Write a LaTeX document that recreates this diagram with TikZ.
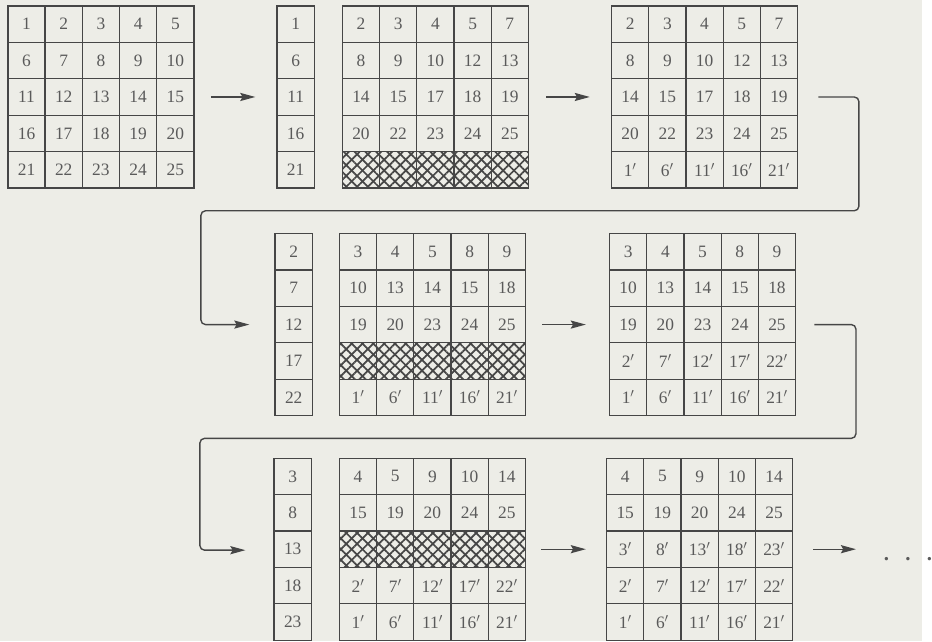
\documentclass[tikz,border=0pt]{standalone}
\usepackage{fontspec}
\setmainfont{Liberation Serif}
\usetikzlibrary{arrows.meta,patterns.meta}

\definecolor{paper}{RGB}{237,237,231}
\definecolor{ink}{RGB}{70,70,70}
\definecolor{digit}{RGB}{90,90,90}

\newcommand\cw{37.6}
\newcommand\ch{36.8}

\tikzset{
  num/.style={font=\fontsize{15}{15}\selectfont, text=digit, inner sep=0pt},
  box/.style={draw=ink, line width=1.1pt},
  hatch/.style={pattern={Lines[angle=45,distance=6.6pt,line width=1.5pt]}, pattern color=ink},
  hatchb/.style={pattern={Lines[angle=-45,distance=6.6pt,line width=1.5pt]}, pattern color=ink},
  flow/.style={draw=ink, line width=1.2pt, -{Stealth[length=13pt,width=7pt,inset=2pt]}},
}

\begin{document}
\begin{tikzpicture}[x=0.03cm, y=-0.03cm]
  \fill[paper] (0,0) rectangle (932,648);

  % row 1
  \begin{scope}[shift={(8,6)}]
    \foreach \r/\row in {0/{1,2,3,4,5},1/{6,7,8,9,10},2/{11,12,13,14,15},3/{16,17,18,19,20},4/{21,22,23,24,25}}
      \foreach \t [count=\c from 0] in \row
        \node[num] (a-\r-\c) at ({(\c+0.5)*\cw},{(\r+0.5)*\ch}) {\t};
    \foreach \r in {0,...,4} \foreach \c in {0,...,4}
      \draw[box] (\c*\cw,\r*\ch) rectangle ++(\cw,\ch);
  \end{scope}

  \begin{scope}[shift={(280,6)}]
    \foreach \t [count=\r from 0] in {1,6,11,16,21} {
      \node[num] (b-\r) at (0.5*\cw,{(\r+0.5)*\ch}) {\t};
      \draw[box] (0,\r*\ch) rectangle ++(\cw,\ch);
    }
  \end{scope}

  \begin{scope}[shift={(346,6)}]
    \foreach \r/\row in {0/{2,3,4,5,7},1/{8,9,10,12,13},2/{14,15,17,18,19},3/{20,22,23,24,25}}
      \foreach \t [count=\c from 0] in \row
        \node[num] (c-\r-\c) at ({(\c+0.5)*\cw},{(\r+0.5)*\ch}) {\t};
    \fill[hatch] (0,4*\ch) rectangle (5*\cw,5*\ch);
    \fill[hatchb] (0,4*\ch) rectangle (5*\cw,5*\ch);
    \foreach \r in {0,...,4} \foreach \c in {0,...,4}
      \draw[box] (\c*\cw,\r*\ch) rectangle ++(\cw,\ch);
  \end{scope}

  \begin{scope}[shift={(618,6)}]
    \foreach \r/\row in {0/{2,3,4,5,7},1/{8,9,10,12,13},2/{14,15,17,18,19},3/{20,22,23,24,25},4/{1$'$,6$'$,11$'$,16$'$,21$'$}}
      \foreach \t [count=\c from 0] in \row
        \node[num] (d-\r-\c) at ({(\c+0.5)*\cw},{(\r+0.5)*\ch}) {\t};
    \foreach \r in {0,...,4} \foreach \c in {0,...,4}
      \draw[box] (\c*\cw,\r*\ch) rectangle ++(\cw,\ch);
  \end{scope}

  % row 2
  \begin{scope}[shift={(278,236)}]
    \foreach \t [count=\r from 0] in {2,7,12,17,22} {
      \node[num] (e-\r) at (0.5*\cw,{(\r+0.5)*\ch}) {\t};
      \draw[box] (0,\r*\ch) rectangle ++(\cw,\ch);
    }
  \end{scope}

  \begin{scope}[shift={(343,236)}]
    \foreach \r/\row in {0/{3,4,5,8,9},1/{10,13,14,15,18},2/{19,20,23,24,25},4/{1$'$,6$'$,11$'$,16$'$,21$'$}}
      \foreach \t [count=\c from 0] in \row
        \node[num] (f-\r-\c) at ({(\c+0.5)*\cw},{(\r+0.5)*\ch}) {\t};
    \fill[hatch] (0,3*\ch) rectangle (5*\cw,4*\ch);
    \fill[hatchb] (0,3*\ch) rectangle (5*\cw,4*\ch);
    \foreach \r in {0,...,4} \foreach \c in {0,...,4}
      \draw[box] (\c*\cw,\r*\ch) rectangle ++(\cw,\ch);
  \end{scope}

  \begin{scope}[shift={(616,236)}]
    \foreach \r/\row in {0/{3,4,5,8,9},1/{10,13,14,15,18},2/{19,20,23,24,25},3/{2$'$,7$'$,12$'$,17$'$,22$'$},4/{1$'$,6$'$,11$'$,16$'$,21$'$}}
      \foreach \t [count=\c from 0] in \row
        \node[num] (g-\r-\c) at ({(\c+0.5)*\cw},{(\r+0.5)*\ch}) {\t};
    \foreach \r in {0,...,4} \foreach \c in {0,...,4}
      \draw[box] (\c*\cw,\r*\ch) rectangle ++(\cw,\ch);
  \end{scope}

  % row 3
  \begin{scope}[shift={(277,463)}]
    \foreach \t [count=\r from 0] in {3,8,13,18,23} {
      \node[num] (h-\r) at (0.5*\cw,{(\r+0.5)*\ch}) {\t};
      \draw[box] (0,\r*\ch) rectangle ++(\cw,\ch);
    }
  \end{scope}

  \begin{scope}[shift={(343,463)}]
    \foreach \r/\row in {0/{4,5,9,10,14},1/{15,19,20,24,25},3/{2$'$,7$'$,12$'$,17$'$,22$'$},4/{1$'$,6$'$,11$'$,16$'$,21$'$}}
      \foreach \t [count=\c from 0] in \row
        \node[num] (i-\r-\c) at ({(\c+0.5)*\cw},{(\r+0.5)*\ch}) {\t};
    \fill[hatch] (0,2*\ch) rectangle (5*\cw,3*\ch);
    \fill[hatchb] (0,2*\ch) rectangle (5*\cw,3*\ch);
    \foreach \r in {0,...,4} \foreach \c in {0,...,4}
      \draw[box] (\c*\cw,\r*\ch) rectangle ++(\cw,\ch);
  \end{scope}

  \begin{scope}[shift={(613,463)}]
    \foreach \r/\row in {0/{4,5,9,10,14},1/{15,19,20,24,25},2/{3$'$,8$'$,13$'$,18$'$,23$'$},3/{2$'$,7$'$,12$'$,17$'$,22$'$},4/{1$'$,6$'$,11$'$,16$'$,21$'$}}
      \foreach \t [count=\c from 0] in \row
        \node[num] (j-\r-\c) at ({(\c+0.5)*\cw},{(\r+0.5)*\ch}) {\t};
    \foreach \r in {0,...,4} \foreach \c in {0,...,4}
      \draw[box] (\c*\cw,\r*\ch) rectangle ++(\cw,\ch);
  \end{scope}

  % arrows
  \coordinate (a-out) at (213,98);  \coordinate (b-in) at (258,98);
  \coordinate (c-out) at (552,98);  \coordinate (d-in) at (596,98);
  \coordinate (d-out) at (827,98);  \coordinate (e-in) at (252,328);
  \coordinate (f-out) at (548,328); \coordinate (g-in) at (592,328);
  \coordinate (g-out) at (823,328); \coordinate (h-in) at (248,556);
  \coordinate (i-out) at (547,555); \coordinate (j-in) at (592,555);
  \coordinate (j-out) at (822,555); \coordinate (k-in) at (865,555);

  \draw[flow] (a-out) -- (b-in);
  \draw[flow] (c-out) -- (d-in);
  \draw[flow, rounded corners=4pt] (d-out) -- (868,98) -- (868,213) -- (203,213) |- (e-in);
  \draw[flow] (f-out) -- (g-in);
  \draw[flow, rounded corners=4pt] (g-out) -- (865,328) -- (865,443) -- (202,443) |- (h-in);
  \draw[flow] (i-out) -- (j-in);
  \draw[flow] (j-out) -- (k-in);

  \node[num, font=\fontsize{18}{18}\selectfont\bfseries, anchor=base west] (more) at (893,566) {.\hspace{14pt}.\hspace{14pt}.};
\end{tikzpicture}
\end{document}
